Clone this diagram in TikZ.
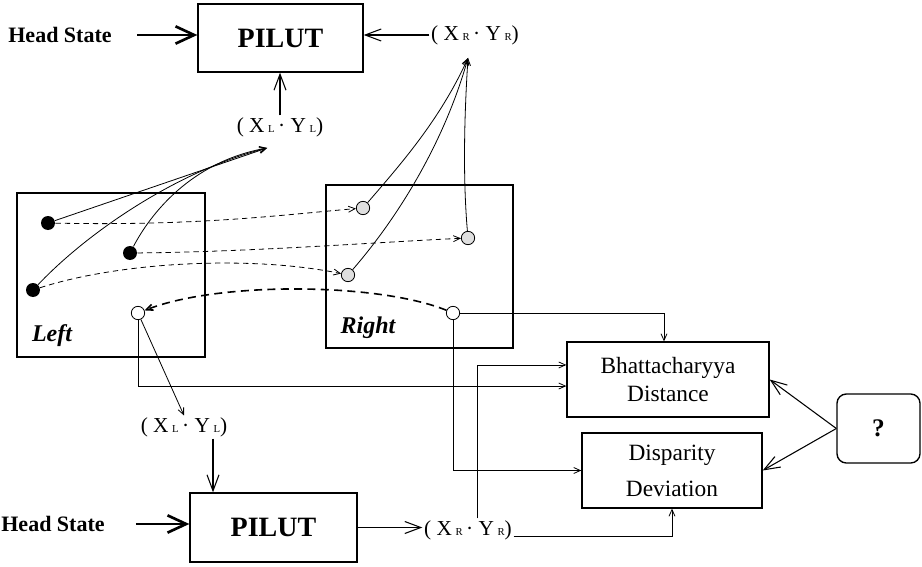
\documentclass[tikz,border=0pt]{standalone}
\usepackage{fontspec}
\setmainfont{Liberation Serif}
\usetikzlibrary{arrows.meta}

\tikzset{every picture/.style={line width=0.75pt}}
\tikzset{
  blk/.style={draw, line width=1pt, inner sep=0pt},
  lbl/.style={font=\fontsize{16}{19}\selectfont, inner sep=1pt},
  dotfull/.style={circle, fill=black, minimum size=10.5pt, inner sep=0pt},
  dothole/.style={circle, draw, line width=0.6pt, minimum size=10pt, inner sep=0pt},
  dotgray/.style={dothole, fill=gray!25},
  bigarr/.style={-{Straight Barb[length=14pt,width=13pt]}, line width=2pt},
  midarr/.style={-{Straight Barb[length=12pt,width=9pt]}, line width=0.8pt},
  smallarr/.style={-{Straight Barb[length=5pt,width=4.5pt]}, line width=0.6pt},
  dsh/.style={smallarr, dash pattern=on 4pt off 3pt},
  dshthick/.style={smallarr, line width=1.2pt, dash pattern=on 6pt off 4pt}
}

\begin{document}
\begin{tikzpicture}[x=0.75pt,y=0.75pt,yscale=-1,xscale=1]
\useasboundingbox (0,0) rectangle (922,567);

%Shape: Rectangle [PILUT top]
\node[blk, minimum width=123.75pt, minimum height=51pt, font=\fontsize{21}{25}\selectfont\bfseries] (pilutT) at (280.5,38) {PILUT};
%Shape: Rectangle [PILUT bottom]
\node[blk, minimum width=125.25pt, minimum height=51.75pt, font=\fontsize{21}{25}\selectfont\bfseries] (pilutB) at (273.5,527.5) {PILUT};
%Shape: Rectangle [Left image]
\node[blk, minimum width=141pt, minimum height=123pt] (leftbox) at (111,275) {};
%Shape: Rectangle [Right image]
\node[blk, minimum width=140.25pt, minimum height=122.25pt] (rightbox) at (419.5,266.5) {};
%Shape: Rectangle [Bhattacharyya]
\node[blk, minimum width=151.5pt, minimum height=56.25pt, align=center, font=\fontsize{17.5}{21}\selectfont] (bhat) at (668,379.5) {Bhattacharyya\\Distance};
%Shape: Rectangle [Disparity]
\node[blk, minimum width=135pt, minimum height=56.25pt, align=center, font=\fontsize{17.5}{27}\selectfont] (disp) at (672,470.5) {Disparity\\Deviation};
%Shape: Rounded Rect [?]
\node[blk, rounded corners=7pt, minimum width=62.25pt, minimum height=51.75pt, font=\fontsize{19}{22}\selectfont\bfseries] (quest) at (878.5,428.5) {?};

% Text Node
\node[lbl, font=\fontsize{16.5}{19}\selectfont\bfseries] (headT) at (60,35) {Head State};
% Text Node
\node[lbl, font=\fontsize{16.5}{19}\selectfont\bfseries] (headB) at (53,524) {Head State};
% Text Node
\node[lbl] (xrT) at (475,35) {(\ X\,{\footnotesize R}\,·\ Y\,{\footnotesize R})};
% Text Node
\node[lbl] (xlT) at (280,127) {(\ X\,{\footnotesize L}\,·\ Y\,{\footnotesize L})};
% Text Node
\node[lbl] (xlB) at (184,427) {(\ X\,{\footnotesize L}\,·\ Y\,{\footnotesize L})};
% Text Node
\node[lbl] (xrB) at (468,530) {(\ X\,{\footnotesize R}\,·\ Y\,{\footnotesize R})};
% Text Node
\node[lbl, font=\fontsize{18}{21}\selectfont\bfseries\itshape] (leftlbl) at (52,336) {Left};
% Text Node
\node[lbl, font=\fontsize{18}{21}\selectfont\bfseries\itshape] (rightlbl) at (368,328) {Right};

%Shape: Circle [left features]
\node[dotfull] (dl1) at (48,223) {};
\node[dotfull] (dl2) at (130,253) {};
\node[dotfull] (dl3) at (33,290) {};
\node[dothole] (hl) at (138,313) {};
%Shape: Circle [right features]
\node[dotgray] (dr1) at (363,208) {};
\node[dotgray] (dr2) at (468,238) {};
\node[dotgray] (dr3) at (348,275) {};
\node[dothole] (hr) at (453,313) {};

% fan points
\coordinate (xlfan) at (267,148);
\coordinate (xrfan) at (468,58);

%Straight Lines [inputs to PILUT]
\draw[bigarr, shorten <=18pt] (headT.east) -- (headT.east -| pilutT.west);
\draw[midarr] (xrT.west) -- (xrT.west -| pilutT.east);
\draw[midarr] (xlT.north) -- (xlT.north |- pilutT.south);
\draw[bigarr, shorten <=22pt] (headB.east) -- (headB.east -| pilutB.west);
\draw[midarr] ([xshift=21.75pt]xlB.south) -- ([xshift=21.75pt]xlB.south |- pilutB.north);
\draw[midarr] (pilutB.east) -- (pilutB.east -| xrB.west);

%Curve Lines [dashed matches]
\draw[dsh] (dl1) .. controls (200,226) and (280,215) .. (dr1);
\draw[dsh] (dl2) .. controls (250,252) and (380,242) .. (dr2);
\draw[dsh] (dl3) .. controls (120,262) and (250,255) .. (dr3);
\draw[dshthick] (hr) .. controls (380,283) and (220,281) .. (hl);

%Curve Lines [to fan points]
\draw[smallarr] (dl1) -- (xlfan);
\draw[smallarr] (dl3) .. controls (90,230) and (180,170) .. (xlfan);
\draw[smallarr] (dl2) .. controls (150,215) and (190,162) .. (xlfan);
\draw[smallarr] (dr1) .. controls (400,165) and (440,120) .. (xrfan);
\draw[smallarr] (dr3) .. controls (400,215) and (445,140) .. (xrfan);
\draw[smallarr] (dr2) .. controls (463,180) and (464,120) .. (xrfan);

%Straight Lines [to the measures]
\draw[smallarr] (hl) -- (xlB.north);
\draw[smallarr] (hl.south) |- ([yshift=4.9pt]bhat.west);
\draw[smallarr] (hr.east) -| ([xshift=-3pt]bhat.north);
\draw[smallarr] (hr.south) |- (disp.west);
\draw[smallarr] ([xshift=6.75pt]xrB.north) |- ([yshift=-10.9pt]bhat.west);
\draw[smallarr] ([yshift=5pt]xrB.east) -| (disp.south);
\draw[midarr] (quest.west) -- (bhat.east);
\draw[midarr] (quest.west) -- (disp.east);

\end{tikzpicture}
\end{document}
